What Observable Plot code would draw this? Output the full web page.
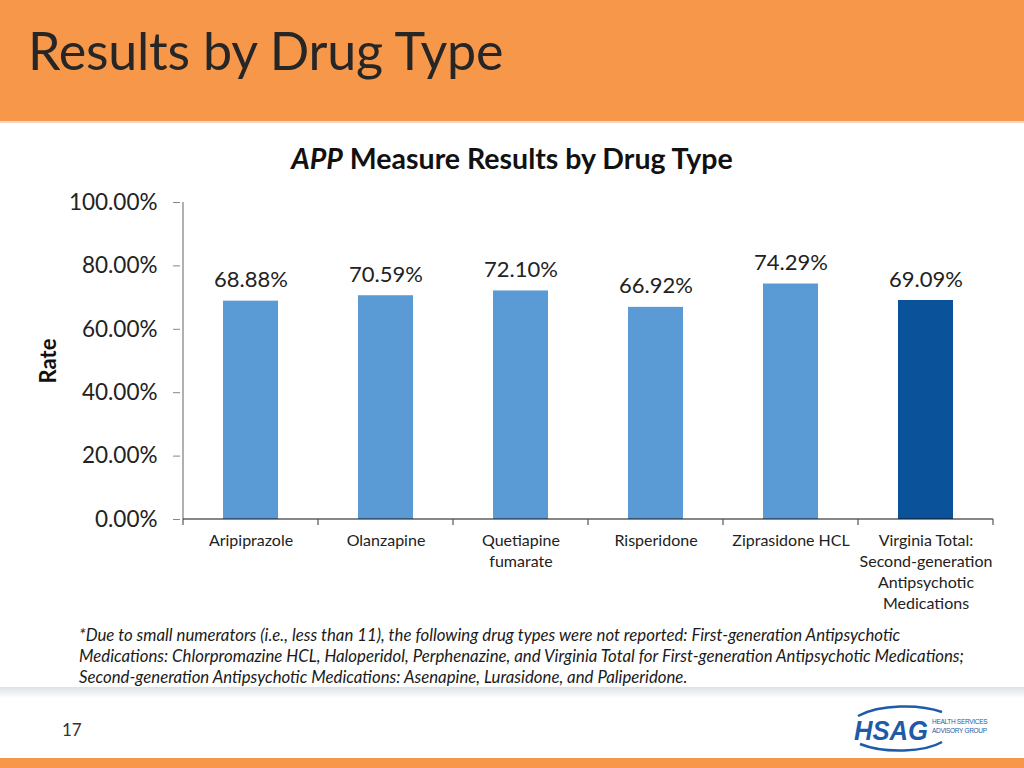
<!DOCTYPE html>
<html>
<head>
<meta charset="utf-8">
<script src="https://cdn.jsdelivr.net/npm/d3@7"></script>
<script src="https://cdn.jsdelivr.net/npm/@observablehq/plot@0.6"></script>
<style>
  html, body { margin: 0; padding: 0; background: #fff; }
  #page { position: relative; width: 1024px; height: 768px; overflow: hidden; font-family: Lato, "Open Sans", sans-serif; color: #222; }
  #header { position: absolute; left: 0; top: 0; width: 1024px; height: 121px; background: #F7974A; border-bottom: 2px solid #f1d9c4; }
  #header h1 { position: absolute; left: 28px; top: 19px; margin: 0; font-weight: 400; font-size: 52px; color: #262626; letter-spacing: -0.2px; }
  #ctitle { position: absolute; left: 0; width: 1024px; top: 141px; text-align: center; font-size: 28.5px; font-weight: 700; color: #111; }
  #chart { position: absolute; left: 0; top: 180px; }
  #note { position: absolute; left: 79px; top: 624px; font-size: 16.8px; font-style: italic; line-height: 21px; color: #1a1a1a; white-space: nowrap; }
  #shadow { position: absolute; left: 0; top: 687px; width: 1024px; height: 11px; background: linear-gradient(#dde2e6, #ffffff); }
  #pnum { position: absolute; left: 62px; top: 719px; font-size: 17px; color: #333; }
  #logo { position: absolute; left: 850px; top: 702px; }
  #logo-sub { position: absolute; left: 932px; top: 717px; font-family: "Liberation Sans", Arial, sans-serif; font-size: 6.5px; line-height: 9px; color: #1f5aa8; letter-spacing: -0.3px; white-space: nowrap; }
  #footer { position: absolute; left: 0; top: 758px; width: 1024px; height: 10px; background: #F7974A; }
</style>
</head>
<body>
<div id="page">
  <div id="header"><h1>Results by Drug Type</h1></div>
  <div id="ctitle"><i>APP</i> Measure Results by Drug Type</div>
  <div id="chart"></div>
  <div id="note">*Due to small numerators (i.e., less than 11), the following drug types were not reported: First-generation Antipsychotic<br>Medications: Chlorpromazine HCL, Haloperidol, Perphenazine, and Virginia Total for First-generation Antipsychotic Medications;<br>Second-generation Antipsychotic Medications: Asenapine, Lurasidone, and Paliperidone.</div>
  <div id="shadow"></div>
  <div id="pnum">17</div>
  <svg id="logo" width="100" height="52" viewBox="0 0 100 52">
    <path d="M8,14 C30,2 70,2 92,10" fill="none" stroke="#1f5aa8" stroke-width="2.5"/>
    <path d="M10,42 C35,52 75,50 92,40" fill="none" stroke="#1f5aa8" stroke-width="2.5"/>
    <text x="4" y="38" font-family="Liberation Sans, Arial, sans-serif" font-weight="700" font-style="italic" font-size="28" fill="#1f5aa8" textLength="74" lengthAdjust="spacingAndGlyphs">HSAG</text>
  </svg>
  <div id="logo-sub">HEALTH SERVICES<br>ADVISORY GROUP</div>
  <div id="footer"></div>
</div>
<script>
const categories = [
  "Aripiprazole",
  "Olanzapine",
  "Quetiapine\nfumarate",
  "Risperidone",
  "Ziprasidone HCL",
  "Virginia Total:\nSecond-generation\nAntipsychotic\nMedications"
];
const rates = [0.6888, 0.7059, 0.7210, 0.6692, 0.7429, 0.6909];
const isTotal = [false, false, false, false, false, true];
const yTicks = [0, 0.2, 0.4, 0.6, 0.8, 1.0];
const axisTitle = ["Rate"];

const lightBlue = "#5B9BD5";
const darkBlue = "#0A529A";

const data = categories.map((c, i) => ({category: c, rate: rates[i], total: isTotal[i]}));
const pct = v => (v * 100).toFixed(2) + "%";

// axis lines and category boundary ticks, Excel style
function axisFrame(index, scales) {
  const x = scales.x, y = scales.y;
  const g = d3.create("svg:g");
  const dom = x.domain();
  const step = x.step(), bw = x.bandwidth();
  const bounds = dom.map(d => x(d) + bw / 2 - step / 2);
  bounds.push(bounds[bounds.length - 1] + step);
  const y0 = y(0), y1 = y(1);
  g.append("line").attr("x1", bounds[0]).attr("x2", bounds[0]).attr("y1", y1).attr("y2", y0)
    .attr("stroke", "#868686").attr("stroke-width", 1.3);
  g.append("line").attr("x1", bounds[0]).attr("x2", bounds[bounds.length - 1]).attr("y1", y0).attr("y2", y0)
    .attr("stroke", "#111").attr("stroke-width", 1.2);
  for (const b of bounds) {
    g.append("line").attr("x1", b).attr("x2", b).attr("y1", y0).attr("y2", y0 + 6)
      .attr("stroke", "#555").attr("stroke-width", 1.2);
  }
  return g.node();
}

const chart = Plot.plot({
  width: 1024,
  height: 440,
  marginLeft: 180,
  marginRight: 29,
  marginTop: 22,
  marginBottom: 101,
  style: {fontFamily: "Lato, 'Open Sans', sans-serif", background: "transparent", color: "#222", overflow: "visible"},
  x: {domain: categories, paddingInner: 0.595, paddingOuter: 0.2975, label: null},
  y: {domain: [0, 1], label: null},
  marks: [
    Plot.barY(data, {x: "category", y: "rate", fill: d => d.total ? darkBlue : lightBlue}),
    Plot.text(data, {x: "category", y: "rate", text: d => pct(d.rate), dy: -21, fontSize: 22, fill: "#222"}),
    Plot.axisY({ticks: yTicks, tickFormat: pct, tickSize: 7, tickPadding: 16, fontSize: 22.5, stroke: "#868686", fill: "#222", label: null}),
    Plot.axisX({tickSize: 0, tickPadding: 12, fontSize: 16, lineHeight: 1.3, fill: "#222", label: null}),
    axisFrame,
    Plot.text(axisTitle, {text: d => d, frameAnchor: "left", textAnchor: "middle", rotate: -90, dx: -132, fontSize: 22, fontWeight: "bold", fill: "#111"})
  ]
});
document.getElementById("chart").appendChild(chart);
</script>
</body>
</html>
